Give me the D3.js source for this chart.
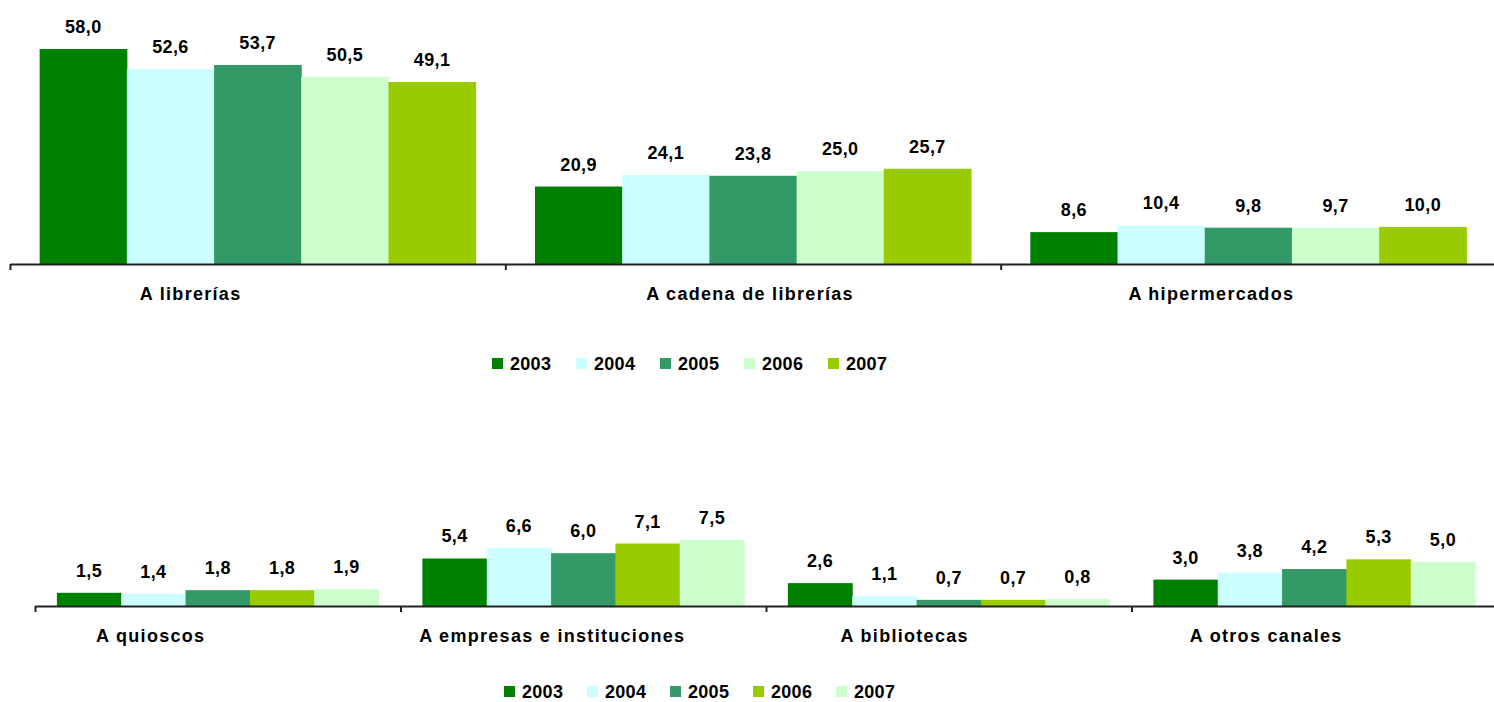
<!DOCTYPE html>
<html><head><meta charset="utf-8">
<script src="https://cdn.jsdelivr.net/npm/d3@7"></script>
<style>
html,body{margin:0;padding:0;background:#fff;}
svg{display:block;}
text{font-family:Arial,"Liberation Sans",sans-serif;font-weight:bold;fill:#000;}
</style></head>
<body>
<script>
// ---- data ----
const years = ["2003","2004","2005","2006","2007"];
const topCategories = ["A librerías","A cadena de librerías","A hipermercados"];
const topValues = {
  "A librerías":          [58.0, 52.6, 53.7, 50.5, 49.1],
  "A cadena de librerías":[20.9, 24.1, 23.8, 25.0, 25.7],
  "A hipermercados":      [8.6, 10.4, 9.8, 9.7, 10.0]
};
const bottomCategories = ["A quioscos","A empresas e instituciones","A bibliotecas","A otros canales"];
const bottomValues = {
  "A quioscos":                 [1.5, 1.4, 1.8, 1.8, 1.9],
  "A empresas e instituciones": [5.4, 6.6, 6.0, 7.1, 7.5],
  "A bibliotecas":              [2.6, 1.1, 0.7, 0.7, 0.8],
  "A otros canales":            [3.0, 3.8, 4.2, 5.3, 5.0]
};
const topColors    = ["#008000","#CCFFFF","#339966","#CCFFCC","#99CC00"];
const bottomColors = ["#008000","#CCFFFF","#339966","#99CC00","#CCFFCC"];

// ---- layout ----
const W = 1494, H = 702;
const svg = d3.select("body").append("svg").attr("width", W).attr("height", H);
const fmt = v => d3.format(".1f")(v).replace(".", ",");

function drawChart(cfg) {
  const {cats, vals, colors, x0, x1, base, yTop, vMax, labelY, labelOffsets, legendY, legendX, legendStep, sq} = cfg;
  const g = svg.append("g");
  const xc = d3.scaleBand().domain(cats).range([x0, x1]).padding(0);
  const xy = d3.scaleBand().domain(years).range([0, xc.bandwidth()]).paddingInner(0).paddingOuter(0.34);
  const y = d3.scaleLinear().domain([0, vMax]).range([base, yTop]);

  cats.forEach((c, ci) => {
    const gg = g.append("g").attr("transform", `translate(${xc(c)},0)`);
    const data = vals[c].map((v, i) => ({year: years[i], v, i}));
    gg.selectAll("rect").data(data).join("rect")
      .attr("x", d => xy(d.year)).attr("width", xy.bandwidth() + 0.5)
      .attr("y", d => y(d.v)).attr("height", d => base - y(d.v))
      .attr("fill", d => colors[d.i]);
    gg.selectAll("text.val").data(data).join("text").attr("class", "val")
      .attr("x", d => xy(d.year) + xy.bandwidth() / 2)
      .attr("y", d => y(d.v) - 16)
      .attr("text-anchor", "middle").attr("font-size", 18).attr("letter-spacing", 0.4)
      .text(d => fmt(d.v));
    g.append("text")
      .attr("x", xc(c) + xc.bandwidth() / 2 + labelOffsets[ci])
      .attr("y", labelY).attr("text-anchor", "middle")
      .attr("font-size", 18).attr("letter-spacing", 1.3)
      .text(c);
  });

  // axis with boundary ticks
  const xb = d3.scaleLinear().domain([0, cats.length]).range([x0, x1]);
  const ax = g.append("g").attr("transform", `translate(0,${base})`)
    .call(d3.axisBottom(xb).tickValues(d3.range(cats.length + 1)).tickSize(6).tickSizeOuter(0).tickFormat(""));
  ax.select(".domain").attr("stroke", "#222").attr("stroke-width", 2);
  ax.selectAll(".tick line").attr("stroke", "#222").attr("stroke-width", 2);

  // legend
  const lg = g.append("g");
  years.forEach((yr, i) => {
    const lx = legendX + i * legendStep;
    lg.append("rect").attr("x", lx).attr("y", legendY - sq).attr("width", sq).attr("height", sq).attr("fill", colors[i]);
    lg.append("text").attr("x", lx + sq + 7).attr("y", legendY + 1).attr("font-size", 18).attr("letter-spacing", 0.3).text(yr);
  });
}

drawChart({
  cats: topCategories, vals: topValues, colors: topColors,
  x0: 10, x1: 1496, base: 264, yTop: 49, vMax: 58,
  labelY: 300, labelOffsets: [-67, -3, -37],
  legendY: 369, legendX: 492, legendStep: 84, sq: 11
});
drawChart({
  cats: bottomCategories, vals: bottomValues, colors: bottomColors,
  x0: 35, x1: 1497, base: 606, yTop: 540, vMax: 7.5,
  labelY: 642, labelOffsets: [-67, -31, -44, -48],
  legendY: 697, legendX: 504, legendStep: 83, sq: 11
});
</script>
</body></html>
